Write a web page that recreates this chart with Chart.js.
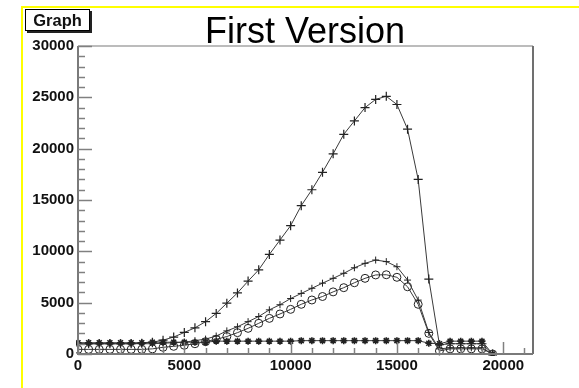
<!DOCTYPE html>
<html>
<head>
<meta charset="utf-8">
<script src="https://cdn.jsdelivr.net/npm/chart.js@4/dist/chart.umd.min.js"></script>
<style>
  html, body { margin: 0; padding: 0; background: #fff; }
  #wrap { position: relative; width: 579px; height: 388px; overflow: hidden; background: #fff; }
  #frame { position: absolute; left: 21px; top: 6px; width: 700px; height: 500px;
           border-top: 2px solid #ffff00; border-left: 2px solid #ffff00; }
  #graphbox { position: absolute; left: 25px; top: 9px; width: 63px; height: 20px;
              border: 1px solid #000; box-shadow: 2px 2px 0 #222; background: #fff;
              font: bold 16.5px 'Liberation Sans', Arial, sans-serif; color: #111;
              line-height: 20px; text-align: center; }
  #title { position: absolute; left: 305px; top: 13px; transform: translateX(-50%);
           font: 36px 'Liberation Sans', Arial, sans-serif; color: #000; line-height: 36px;
           white-space: nowrap; }
  #chart { position: absolute; left: 0; top: 0; }
</style>
</head>
<body>
<div id="wrap">
  <div id="frame"></div>
  <canvas id="chart" width="579" height="388"></canvas>
  <div id="graphbox">Graph</div>
  <div id="title">First Version</div>
</div>
<script>
/* data */
const xs = [0, 500, 1000, 1500, 2000, 2500, 3000, 3500, 4000, 4500,
            5000, 5500, 6000, 6500, 7000, 7500, 8000, 8500, 9000, 9500,
            10000, 10500, 11000, 11500, 12000, 12500, 13000, 13500, 14000, 14500,
            15000, 15500, 16000, 16500, 17000, 17500, 18000, 18500, 19000, 19500];

const plusBig = [1000, 1000, 1000, 1000, 1000, 1000, 1050, 1150, 1350, 1650,
                 2100, 2550, 3150, 3950, 4950, 5950, 7100, 8200, 9700, 11100,
                 12500, 14450, 16000, 17700, 19500, 21400, 22700, 24000, 24800, 25100,
                 24300, 21900, 17000, 7300, 900, 1000, 1000, 1000, 1000, 0];

const plusSmall = [1000, 1000, 1000, 1000, 1000, 1000, 1000, 1000, 1050, 1100,
                   1150, 1300, 1450, 1750, 2250, 2650, 3150, 3650, 4300, 4800,
                   5400, 5900, 6400, 6900, 7370, 7860, 8400, 8830, 9150, 9000,
                   8500, 7200, 5250, 2100, 500, 600, 600, 600, 600, 0];

const circles = [450, 450, 450, 450, 450, 450, 450, 500, 650, 750,
                 850, 1000, 1200, 1430, 1700, 2080, 2500, 2990, 3470, 3900,
                 4350, 4840, 5260, 5600, 6050, 6460, 6940, 7370, 7700, 7720,
                 7470, 6550, 4840, 2010, 300, 500, 500, 500, 500, 0];

const stars = [1100, 1100, 1100, 1100, 1100, 1100, 1100, 1150, 1150, 1150,
               1150, 1150, 1150, 1250, 1250, 1250, 1250, 1250, 1250, 1250,
               1250, 1300, 1300, 1300, 1300, 1300, 1300, 1300, 1300, 1300,
               1300, 1300, 1300, 1050, 1000, 1250, 1250, 1250, 1250, 0];

/* axis ticks: every value gets a tick mark, majors get a label */
const xTicks = [0, 1000, 2000, 3000, 4000, 5000, 6000, 7000, 8000, 9000, 10000,
                11000, 12000, 13000, 14000, 15000, 16000, 17000, 18000, 19000, 20000, 21000];
const xLabels = [0, 5000, 10000, 15000, 20000];
const yTicks = [0, 1000, 2000, 3000, 4000, 5000, 6000, 7000, 8000, 9000, 10000,
                11000, 12000, 13000, 14000, 15000, 16000, 17000, 18000, 19000, 20000,
                21000, 22000, 23000, 24000, 25000, 26000, 27000, 28000, 29000, 30000];
const yLabels = [0, 5000, 10000, 15000, 20000, 25000, 30000];

const FONT = "'Liberation Sans', Arial, sans-serif";
const LINE = '#3a3a3a';

function pts(ys) {
  return xs.map((x, i) => ({ x, y: ys[i] }));
}

function series(ys, style, radius, width) {
  return {
    data: pts(ys),
    showLine: true,
    tension: 0,
    borderColor: LINE,
    borderWidth: 1,
    pointStyle: style,
    pointRadius: radius,
    pointBorderColor: '#222',
    pointBackgroundColor: 'rgba(0,0,0,0)',
    pointBorderWidth: width,
    clip: 2,
  };
}

/* ROOT-like frame with inward ticks */
const rootAxes = {
  id: 'rootAxes',
  afterDraw(chart) {
    const { ctx, chartArea: a, scales: { x, y } } = chart;
    ctx.save();
    // frame
    ctx.lineWidth = 2;
    ctx.strokeStyle = '#bcbcbc';
    ctx.beginPath(); ctx.moveTo(a.left, a.top); ctx.lineTo(a.right, a.top); ctx.stroke();
    ctx.strokeStyle = '#707070';
    ctx.beginPath(); ctx.moveTo(a.right, a.top); ctx.lineTo(a.right, a.bottom); ctx.stroke();
    ctx.strokeStyle = '#7a7a7a';
    ctx.beginPath(); ctx.moveTo(a.left, a.top); ctx.lineTo(a.left, a.bottom);
    ctx.lineTo(a.right, a.bottom); ctx.stroke();
    // ticks
    ctx.lineWidth = 1.5;
    ctx.strokeStyle = '#808080';
    y.ticks.forEach(t => {
      const p = Math.round(y.getPixelForValue(t.value)) + 0.5;
      const len = yLabels.includes(t.value) ? 14 : 7;
      ctx.beginPath(); ctx.moveTo(a.left, p); ctx.lineTo(a.left + len, p); ctx.stroke();
    });
    x.ticks.forEach(t => {
      const p = Math.round(x.getPixelForValue(t.value)) + 0.5;
      const len = xLabels.includes(t.value) ? 12 : 6;
      ctx.beginPath(); ctx.moveTo(p, a.bottom); ctx.lineTo(p, a.bottom - len); ctx.stroke();
    });
    ctx.restore();
  },
};

new Chart(document.getElementById('chart'), {
  type: 'scatter',
  data: {
    datasets: [
      series(plusBig, 'cross', 4.5, 1.2),
      series(plusSmall, 'cross', 3.5, 1),
      series(circles, 'circle', 4, 1),
      series(stars, 'star', 3.5, 1.6),
    ],
  },
  options: {
    responsive: false,
    animation: false,
    layout: { padding: { left: 0, top: 46, right: 46, bottom: 0 } },
    plugins: { legend: { display: false }, tooltip: { enabled: false } },
    scales: {
      x: {
        type: 'linear',
        min: 0, max: 21400,
        afterFit: s => { s.height = 34; },
        afterBuildTicks: s => { s.ticks = xTicks.map(v => ({ value: v })); },
        grid: { display: false, drawTicks: false },
        border: { display: false },
        ticks: {
          autoSkip: false,
          maxRotation: 0,
          padding: 3,
          color: '#111',
          font: { family: FONT, size: 15, weight: 'bold' },
          callback: v => (xLabels.includes(v) ? String(v) : ''),
        },
      },
      y: {
        min: 0, max: 30000,
        afterFit: s => { s.width = 78; },
        afterBuildTicks: s => { s.ticks = yTicks.map(v => ({ value: v })); },
        grid: { display: false, drawTicks: false },
        border: { display: false },
        ticks: {
          autoSkip: false,
          padding: 4,
          color: '#111',
          font: { family: FONT, size: 15, weight: 'bold' },
          callback: v => (yLabels.includes(v) ? String(v) : ''),
        },
      },
    },
  },
  plugins: [rootAxes],
});
</script>
</body>
</html>
